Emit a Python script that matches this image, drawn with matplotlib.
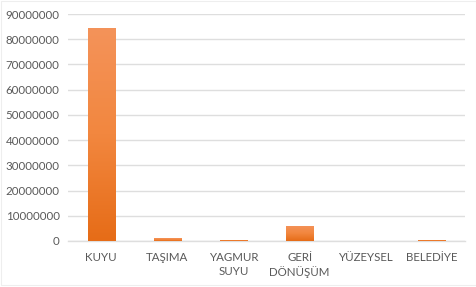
# ----------------------------------------------------------
# bar chart of water sources (orange gradient bars)
# ----------------------------------------------------------
import numpy as np
import matplotlib.pyplot as plt
from matplotlib.colors import LinearSegmentedColormap
from matplotlib.patches import Rectangle

# ----------------------------------------------------------
# data
# ----------------------------------------------------------
categories = ['KUYU', 'TAŞIMA', 'YAGMUR\nSUYU', 'GERİ\nDÖNÜŞÜM', 'YÜZEYSEL', 'BELEDİYE']
values = [84500000, 1000000, 400000, 6100000, 30000, 400000]
yticks = list(range(0, 90000001, 10000000))

# ----------------------------------------------------------
# style
# ----------------------------------------------------------
plt.rcParams['font.family'] = ['Lato', 'DejaVu Sans']
text_color = '#595959'
grid_color = '#DEDEDE'
grad = LinearSegmentedColormap.from_list('og', ['#E66C17', '#F2873F', '#F4935A'])

fig = plt.figure(figsize=(4.77, 2.87), dpi=100)
fig.patches.append(Rectangle((0.002, 0.007), 0.996, 0.99, transform=fig.transFigure,
                             fill=False, edgecolor='#EEEEEE', linewidth=0.8))
ax = fig.add_axes([0.1426, 0.1603, 0.8324, 0.7908])

x = np.arange(len(categories))
bars = ax.bar(x, values, width=0.41, color='#ED7D31', zorder=2)

# gradient fill per bar
gradient = np.linspace(0, 1, 256).reshape(-1, 1)
for b in bars:
	x0, y0 = b.get_x(), b.get_y()
	w, h = b.get_width(), b.get_height()
	if h <= 0:
		continue
	im = ax.imshow(gradient, cmap=grad, aspect='auto', origin='lower',
				   extent=[x0, x0 + w, y0, y0 + h], zorder=3)
	im.set_clip_path(b)

ax.set_xlim(-0.5, len(categories) - 0.5)
ax.set_ylim(0, 90000000)
ax.set_yticks(yticks)
ax.set_yticklabels([str(v) for v in yticks])
ax.set_xticks(x)
ax.set_xticklabels(categories, linespacing=1.3)

ax.yaxis.grid(True, color=grid_color, linewidth=1.0, zorder=0)
ax.set_axisbelow(True)
for s in ['top', 'right', 'left']:
	ax.spines[s].set_visible(False)
ax.spines['bottom'].set_color(grid_color)
ax.spines['bottom'].set_linewidth(1.0)
ax.tick_params(axis='both', length=0, colors=text_color, labelsize=8.3)
ax.tick_params(axis='x', pad=8)
ax.tick_params(axis='y', pad=6)

plt.savefig('out.png', dpi=100)
plt.close()
